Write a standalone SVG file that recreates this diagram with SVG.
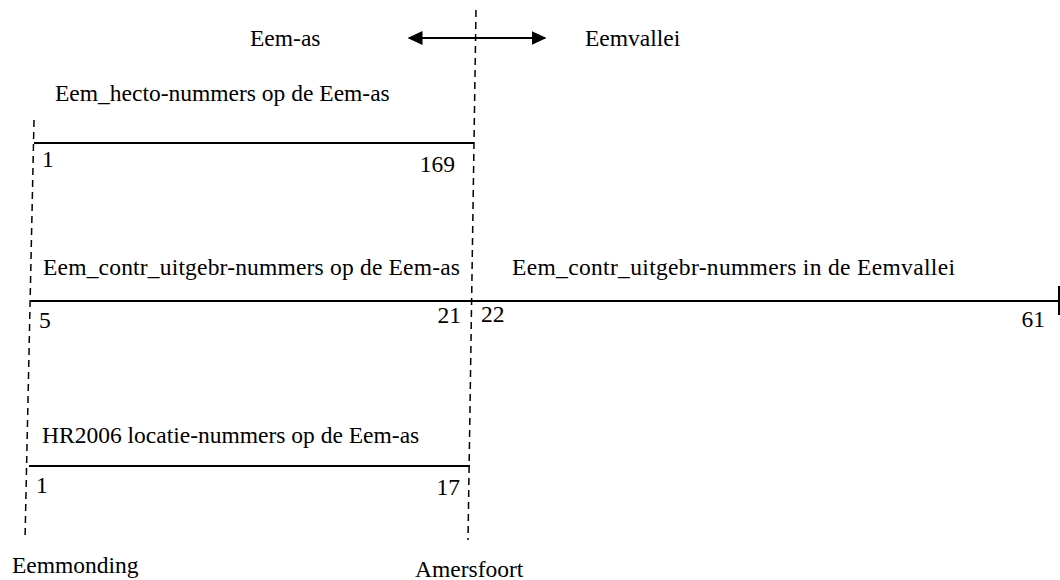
<svg xmlns="http://www.w3.org/2000/svg" width="1060" height="580" viewBox="0 0 1060 580">
<defs>
<style>
text{font-family:'Liberation Serif','Times New Roman',serif;font-size:23.5px;fill:#000}
.axis{stroke:#000;stroke-width:2;fill:none}
.dash{stroke:#000;stroke-width:1.5;stroke-dasharray:7,5;fill:none}
</style>
<marker id="ah" viewBox="0 0 10 10" refX="9" refY="5" markerWidth="7.5" markerHeight="7" orient="auto-start-reverse" markerUnits="strokeWidth" preserveAspectRatio="none"><path d="M0,0 L10,5 L0,10 z" fill="#000"/></marker>
</defs>
<rect width="1060" height="580" fill="#fff"/>
<g id="connectors">
<line class="dash" x1="34" y1="120" x2="25" y2="540"/>
<line class="dash" x1="476" y1="10" x2="468" y2="540"/>
<line class="axis" x1="409" y1="38" x2="545" y2="38" marker-start="url(#ah)" marker-end="url(#ah)"/>
</g>
<g id="top-labels">
<text x="250" y="46">Eem-as</text>
<text x="585" y="46">Eemvallei</text>
</g>
<g id="hecto">
<line class="axis" x1="34" y1="143" x2="474" y2="143"/>
<text x="55" y="101">Eem_hecto-nummers op de Eem-as</text>
<text x="42" y="167">1</text>
<text x="455" y="172" text-anchor="end">169</text>
</g>
<g id="contr">
<line class="axis" x1="31" y1="301" x2="1059" y2="301"/>
<line class="axis" x1="1059" y1="286" x2="1059" y2="315"/>
<text x="43" y="275" textLength="417">Eem_contr_uitgebr-nummers op de Eem-as</text>
<text x="512" y="275" textLength="443">Eem_contr_uitgebr-nummers in de Eemvallei</text>
<text x="39" y="328">5</text>
<text x="461" y="323" text-anchor="end">21</text>
<text x="481" y="322">22</text>
<text x="1045" y="327" text-anchor="end">61</text>
</g>
<g id="hr2006">
<line class="axis" x1="29" y1="466" x2="470" y2="466"/>
<text x="42" y="443">HR2006 locatie-nummers op de Eem-as</text>
<text x="36" y="493">1</text>
<text x="460" y="495" text-anchor="end">17</text>
</g>
<g id="places">
<text x="12" y="573">Eemmonding</text>
<text x="415" y="577">Amersfoort</text>
</g>
</svg>
